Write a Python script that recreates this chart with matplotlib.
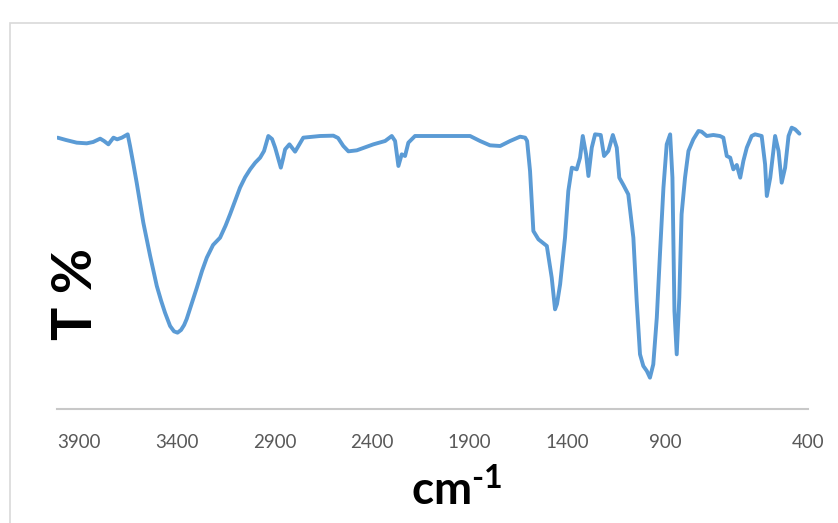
import numpy as np
import matplotlib
matplotlib.use("Agg")
import matplotlib.pyplot as plt
from matplotlib.patches import Rectangle

# ---- data ----
wavenumber = [4010, 3967, 3912, 3861, 3828, 3792, 3772, 3750, 3724, 3705, 3681, 3651, 3639,
              3622, 3605, 3571, 3536, 3502, 3480, 3460, 3434, 3414, 3396, 3378, 3362, 3349,
              3325, 3297, 3270, 3246, 3214, 3178, 3150, 3127, 3100, 3076, 3050, 3024, 2998,
              2973, 2953, 2931, 2912, 2896, 2867, 2856, 2845, 2823,
              2794, 2752, 2666, 2598, 2574, 2547, 2521, 2478, 2393, 2333, 2299, 2282, 2265,
              2248, 2231, 2214, 2180, 1898, 1847, 1796, 1744, 1693, 1642, 1616, 1606, 1591,
              1574, 1548, 1505, 1480, 1463, 1453, 1437, 1412, 1395, 1377, 1352, 1335, 1321,
              1304, 1292, 1275, 1258, 1229, 1212, 1190, 1167, 1147, 1134, 1113, 1088, 1062,
              1045, 1028, 1011, 993, 977, 960, 942, 925, 908, 894, 882, 874, 867, 859, 850,
              842, 830, 818, 801, 783, 772, 754, 731, 708, 696, 684, 672, 661, 649, 637, 626,
              614, 597, 585, 562, 550, 544, 532, 515, 503, 492, 480, 468, 457, 445, 430]
transmittance = [81.4, 80.7, 79.9, 79.7, 80.1, 81.1, 80.4, 79.4, 81.4, 80.9, 81.4, 82.4, 78.9,
                 73.5, 67.9, 55.9, 45.9, 36.9, 32.5, 28.9, 24.9, 23.3, 22.9, 23.7, 25.2, 27.0,
                 31.3, 36.4, 41.5, 45.4, 49.2, 51.4, 55.0, 58.4, 62.6, 66.4, 69.5, 71.9, 73.9,
                 75.4, 77.4, 81.9, 81.0, 78.4, 72.4, 75.0, 77.9, 79.4,
                 77.2, 81.4, 81.9, 82.0, 81.3, 78.9, 77.3, 77.6, 79.4, 80.4, 81.9, 80.4, 72.9,
                 76.4, 75.9, 79.9, 81.9, 81.9, 80.4, 79.1, 78.9, 80.4, 81.7, 81.4, 80.4, 71.4,
                 53.4, 50.9, 48.9, 39.4, 29.9, 31.5, 37.4, 51.4, 65.4, 72.4, 71.9, 75.4, 81.9,
                 76.4, 69.9, 78.4, 82.4, 82.2, 75.9, 77.4, 82.2, 78.4, 69.4, 67.2, 64.4, 51.4,
                 32.4, 16.4, 12.9, 11.4, 9.4, 13.4, 27.4, 47.4, 66.4, 79.4, 82.4, 69.4, 29.4,
                 16.4, 33.4, 58.4, 69.4, 77.4, 80.9, 83.4, 83.2, 81.9, 82.2, 81.9, 81.4, 75.9,
                 75.4, 71.9, 73.2, 69.4, 74.4, 78.4, 81.9, 82.4, 81.9, 73.4, 63.9, 69.4, 81.9,
                 77.4, 67.9, 72.4, 81.9, 84.4, 83.9, 82.6]
tick_values = [3900, 3400, 2900, 2400, 1900, 1400, 900, 400]
tick_labels = ["3900", "3400", "2900", "2400", "1900", "1400", "900", "400"]
x_label = "cm$^{\\text{-1}}$"
y_label = "T %"

# category-like axis of the original: piecewise-linear wavenumber scale
_wn_knots = [0, 400, 900, 4013, 10000]
_pos_knots = [-114.4, 0, 143, 751, 1920.3]


def fwd(v):
    return np.interp(v, _wn_knots, _pos_knots)


def inv(p):
    return np.interp(p, _pos_knots, _wn_knots)


plt.rcParams['mathtext.fontset'] = 'custom'
plt.rcParams['mathtext.rm'] = 'Lato:bold'
plt.rcParams['mathtext.default'] = 'rm'

W, H = 838, 523
fig = plt.figure(figsize=(W / 100, H / 100), dpi=100)
fig.patch.set_facecolor('white')

# chart-area border (extends past right/bottom edges as in the reference)
fig.patches.append(Rectangle((10 / W, -0.1), 1.2, (H - 23) / H + 0.1,
                             transform=fig.transFigure, fill=False,
                             edgecolor='#D9D9D9', lw=1.2))

ax = fig.add_axes([57 / W, (H - 409) / H, 751 / W, 350 / H])
ax.set_xscale('function', functions=(fwd, inv))
ax.plot(wavenumber, transmittance, color='#5B9BD5', lw=2.8,
        solid_joinstyle='round', solid_capstyle='round')
ax.set_xlim(4013, 400)
ax.set_ylim(0, 105)

ax.set_xticks(tick_values)
ax.set_xticklabels(tick_labels, fontfamily='Lato', fontsize=13.5, color='#595959')
ax.xaxis.set_minor_locator(matplotlib.ticker.NullLocator())
ax.tick_params(axis='x', length=0, pad=18)
ax.set_yticks([])

for s in ('top', 'right', 'left'):
    ax.spines[s].set_visible(False)
ax.spines['bottom'].set_color('#C8C8C8')
ax.spines['bottom'].set_linewidth(1.5)

ax.set_xlabel(x_label, fontfamily='Lato', fontweight='bold', fontsize=33, color='black')
ax.xaxis.set_label_coords((457 - 57) / 751, (409 - 490) / 350)
ax.xaxis.label.set_va('center')

ax.set_ylabel(y_label, fontfamily='Lato', fontweight='bold', fontsize=40, color='black')
ax.yaxis.set_label_coords((76 - 57) / 751, (409 - 294) / 350)
ax.yaxis.label.set_va('center')

fig.savefig('out.png', dpi=100)
